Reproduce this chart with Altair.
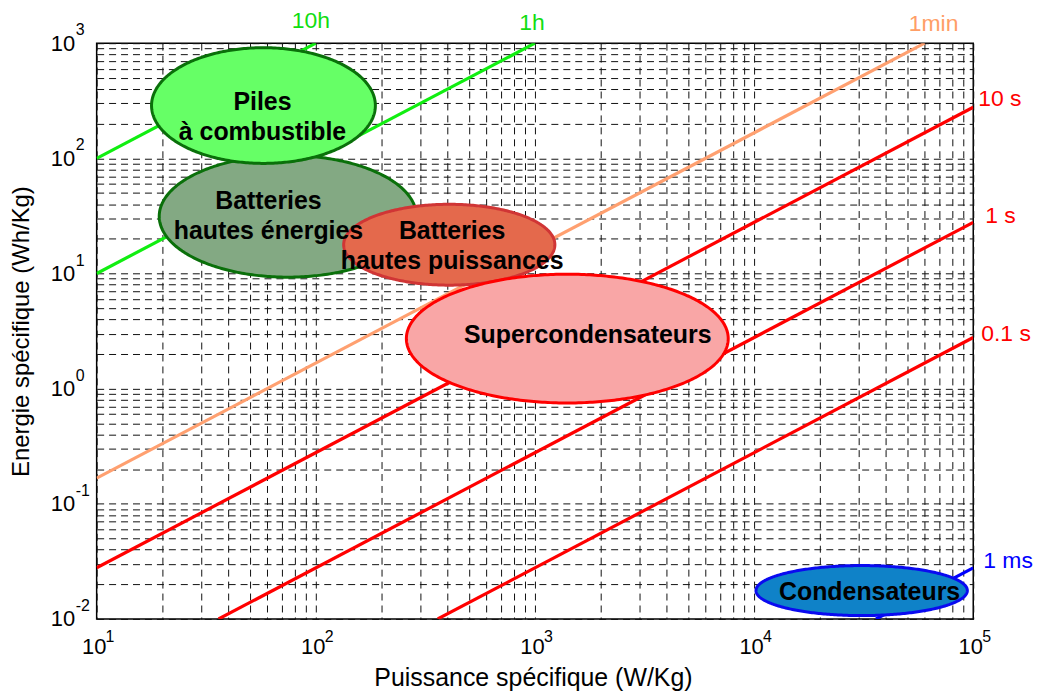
import altair as alt
import pandas as pd
import numpy as np

# ---------------- data ----------------
# Iso discharge-time lines: end points (P in W/Kg, E in Wh/Kg)
line_names = ["10h", "1h", "1min", "10 s", "1 s", "0.1 s", "1 ms"]
line_p_start = [10, 10, 10, 10, 36, 360, 36000]
line_e_start = [100, 10, 0.167, 0.0278, 0.01, 0.01, 0.01]
line_p_end = [100, 1000, 60000, 100000, 100000, 100000, 100000]
line_e_end = [1000, 1000, 1000, 278, 27.8, 2.78, 0.0278]

# Technology regions: extents of each ellipse (P in W/Kg, E in Wh/Kg), in drawing order
tech_names = ["Batteries hautes énergies", "Piles à combustible",
              "Batteries hautes puissances", "Supercondensateurs", "Condensateurs"]
tech_text = ["Batteries\nhautes énergies", "Piles\nà combustible",
             "Batteries\nhautes puissances", "Supercondensateurs", "Condensateurs"]
tech_p_min = [19.3, 17.8, 134, 259, 10200]
tech_p_max = [288, 187, 1233, 7620, 94000]
tech_e_min = [9.29, 90.4, 7.92, 0.751, 0.0107]
tech_e_max = [106, 914, 39.9, 9.86, 0.0291]
tech_label_p = [60.8, 57.1, 419, 1741, 33650]
tech_label_e = [42.8, 308, 23.3, 2.92, 0.0173]

# Axis tick values and exponent labels
x_decades = [10, 100, 1000, 10000, 100000]
x_exponents = ["1", "2", "3", "4", "5"]
y_decades = [0.01, 0.1, 1, 10, 100, 1000]
y_exponents = ["-2", "-1", "0", "1", "2", "3"]
x_ticks = [k * d for d in x_decades[:-1] for k in range(1, 10)] + [100000]
y_ticks = [round(k * d, 6) for d in y_decades[:-1] for k in range(1, 10)] + [1000]

# ---------------- styles ----------------
FONT = "Liberation Sans"
line_colors = ["#11ee11", "#11ee11", "#ffa070", "#ff0000", "#ff0000", "#ff0000", "#0000ff"]
label_colors = ["#11dd11", "#11dd11", "#ff9e66", "#ff0000", "#ff0000", "#ff0000", "#0000ff"]
label_offsets = {"10h": (-5, -22, "center"), "1h": (-3, -20, "center"),
                 "1min": (9, -19, "center"), "10 s": (5, -8, "left"),
                 "1 s": (12, -6, "left"), "0.1 s": (8, -4, "left"),
                 "1 ms": (10, -7, "left")}
tech_fill = ["#83a983", "#66ff66", "#e4694c", "#f9a6a6", "#0f82c8"]
tech_stroke = ["#0a700a", "#0a700a", "#d03535", "#ff0000", "#0a0af0"]

xs = alt.Scale(type="log", domain=[10, 100000], nice=False)
ys = alt.Scale(type="log", domain=[0.01, 1000], nice=False)

is_decade = "abs(log(datum.value)/LN10 - round(log(datum.value)/LN10)) < 0.001 ? '10' : ''"
xaxis = alt.Axis(values=x_ticks, labelExpr=is_decade, grid=True, gridDash=[7, 5],
                 gridColor="#111111", gridWidth=1, ticks=False, domain=False,
                 labelFont=FONT, labelFontSize=22, labelColor="black", labelPadding=18,
                 labelOffset=-3, labelFlush=False, labelOverlap=False, labelBound=False,
                 title="Puissance spécifique (W/Kg)", titleFont=FONT, titleFontSize=25,
                 titleFontWeight="normal", titleColor="black", titleX=438, titleY=59,
                 titleAlign="center", titleBaseline="middle")
yaxis = alt.Axis(values=y_ticks, labelExpr=is_decade, grid=True, gridDash=[7, 5],
                 gridColor="#111111", gridWidth=1, ticks=False, domain=False,
                 labelFont=FONT, labelFontSize=22, labelColor="black", labelPadding=22,
                 labelFlush=False, labelOverlap=False, labelBound=False,
                 title="Energie spécifique (Wh/Kg)", titleFont=FONT, titleFontSize=24,
                 titleFontWeight="normal", titleColor="black", titleX=-75, titleY=289,
                 titleAngle=270, titleAlign="center", titleBaseline="middle")


def X(field):
    return alt.X(field, type="quantitative", scale=xs, axis=xaxis)


def Y(field):
    return alt.Y(field, type="quantitative", scale=ys, axis=yaxis)


# ---------------- iso-time lines ----------------
lines_df = pd.DataFrame({
    "name": line_names + line_names,
    "P": line_p_start + line_p_end,
    "E": line_e_start + line_e_end,
})
lines = alt.Chart(lines_df).mark_line(strokeWidth=3.2, clip=True).encode(
    x=X("P"), y=Y("E"),
    color=alt.Color("name:N", scale=alt.Scale(domain=line_names, range=line_colors), legend=None),
    detail="name:N",
)

layers = [lines]

# ---------------- technology ellipses (drawn in log space) ----------------
theta = np.linspace(0, np.pi, 181)
for i, name in enumerate(tech_names):
    cx = (np.log10(tech_p_min[i]) + np.log10(tech_p_max[i])) / 2
    rx = (np.log10(tech_p_max[i]) - np.log10(tech_p_min[i])) / 2
    cy = (np.log10(tech_e_min[i]) + np.log10(tech_e_max[i])) / 2
    ry = (np.log10(tech_e_max[i]) - np.log10(tech_e_min[i])) / 2
    edf = pd.DataFrame({
        "P": 10 ** (cx + rx * np.cos(theta)),
        "Eu": 10 ** (cy + ry * np.sin(theta)),
        "El": 10 ** (cy - ry * np.sin(theta)),
    })
    layers.append(
        alt.Chart(edf).mark_area(fill=tech_fill[i], stroke=tech_stroke[i], strokeWidth=3,
                                 opacity=1, fillOpacity=1, clip=True)
        .encode(x=X("P"), y=Y("Eu"), y2="El")
    )

tech_df = pd.DataFrame({"name": tech_text, "P": tech_label_p, "E": tech_label_e})
layers.append(
    alt.Chart(tech_df).mark_text(font=FONT, fontSize=25, fontWeight="bold", color="black",
                                 lineBreak="\n", lineHeight=30, align="center", baseline="middle")
    .encode(x=X("P"), y=Y("E"), text="name:N")
)

# ---------------- line labels ----------------
for i, name in enumerate(line_names):
    dx, dy, al = label_offsets[name]
    ldf = pd.DataFrame({"name": [name], "P": [line_p_end[i]], "E": [line_e_end[i]]})
    layers.append(
        alt.Chart(ldf).mark_text(font=FONT, fontSize=23, color=label_colors[i], align=al,
                                 baseline="middle", dx=dx, dy=dy)
        .encode(x=X("P"), y=Y("E"), text="name:N")
    )

# ---------------- axis exponents ----------------
xexp_df = pd.DataFrame({"P": x_decades, "E": [y_decades[0]] * len(x_decades), "t": x_exponents})
layers.append(
    alt.Chart(xexp_df).mark_text(font=FONT, fontSize=16, color="black", align="left",
                                 baseline="middle", dx=9, dy=18)
    .encode(x=X("P"), y=Y("E"), text="t:N")
)
yexp_df = pd.DataFrame({"P": [x_decades[0]] * len(y_decades), "E": y_decades, "t": y_exponents})
layers.append(
    alt.Chart(yexp_df).mark_text(font=FONT, fontSize=16, color="black", align="left",
                                 baseline="middle", dx=-21, dy=-13)
    .encode(x=X("P"), y=Y("E"), text="t:N")
)

chart = alt.layer(*layers).properties(
    width=880, height=578,
    autosize=alt.AutoSizeParams(type="none"),
    padding={"left": 89, "top": 34, "right": 62, "bottom": 74},
).configure_view(stroke="black", strokeWidth=1.5)

chart.save("out.html", embed_options={"renderer": "svg", "actions": False})
